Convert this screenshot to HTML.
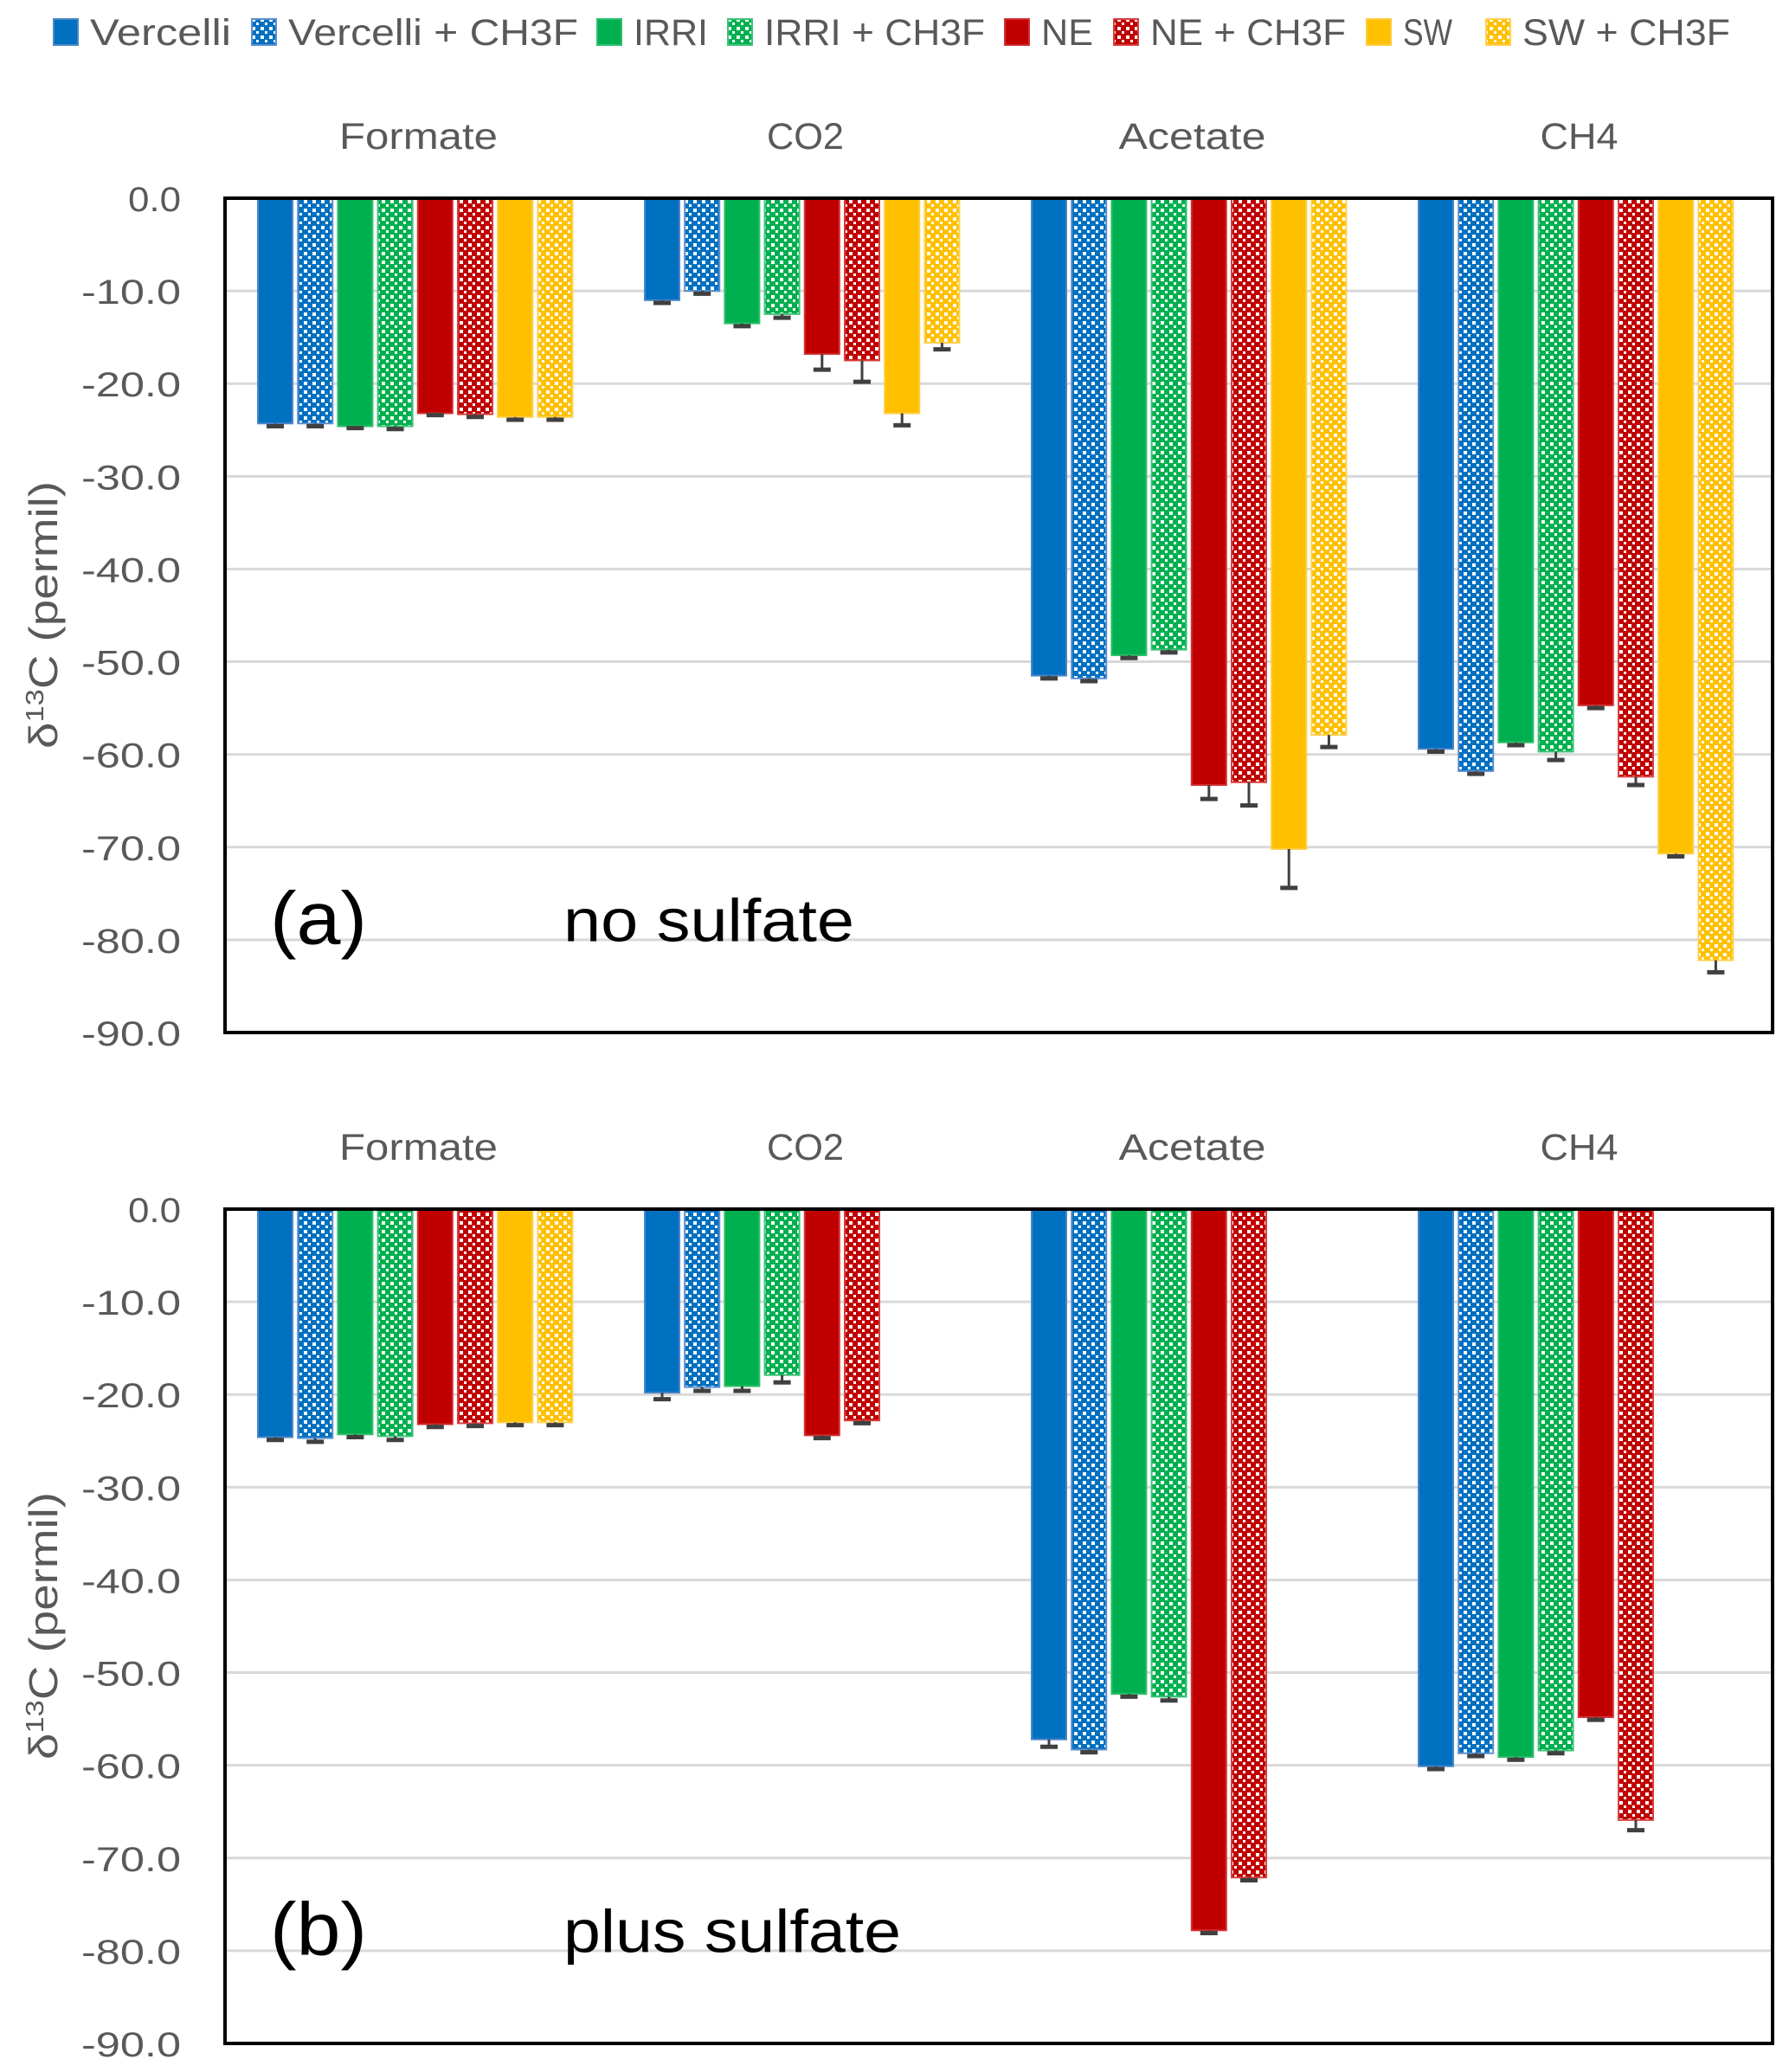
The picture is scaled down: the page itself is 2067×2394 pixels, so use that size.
<!DOCTYPE html>
<html><head><meta charset="utf-8">
<style>
html,body{margin:0;padding:0;background:#fff;}
svg{display:block;font-family:"Liberation Sans",sans-serif;}
</style></head>
<body>
<svg id="chart" width="2067" height="2394" viewBox="0 0 2067 2394" xmlns="http://www.w3.org/2000/svg">
<defs>
<pattern id="p-blue" width="10" height="10" patternUnits="userSpaceOnUse"><rect width="10" height="10" fill="#0070C0"/><rect x="1" y="1" width="4" height="4" fill="#fff"/><rect x="6" y="6" width="3" height="3" fill="#fff"/></pattern>
<pattern id="p-green" width="10" height="10" patternUnits="userSpaceOnUse"><rect width="10" height="10" fill="#00B050"/><rect x="1" y="1" width="4" height="4" fill="#fff"/><rect x="6" y="6" width="3" height="3" fill="#fff"/></pattern>
<pattern id="p-red" width="10" height="10" patternUnits="userSpaceOnUse"><rect width="10" height="10" fill="#C00000"/><rect x="1" y="1" width="4" height="4" fill="#fff"/><rect x="6" y="6" width="3" height="3" fill="#fff"/></pattern>
<pattern id="p-yellow" width="10" height="10" patternUnits="userSpaceOnUse"><rect width="10" height="10" fill="#FFC000"/><rect x="1" y="1" width="4" height="4" fill="#fff"/><rect x="6" y="6" width="3" height="3" fill="#fff"/></pattern>
</defs>
<g id="legend"></g>
<g id="panelA"></g>
<g id="panelB"></g>
</svg>
<script>
const categories = ["Formate","CO2","Acetate","CH4"];
const seriesNames = ["Vercelli","Vercelli + CH3F","IRRI","IRRI + CH3F","NE","NE + CH3F","SW","SW + CH3F"];
const tickValues = [0,-10,-20,-30,-40,-50,-60,-70,-80,-90];
const tickLabels = ["0.0","-10.0","-20.0","-30.0","-40.0","-50.0","-60.0","-70.0","-80.0","-90.0"];
// panel (a) no sulfate: values[category][series]
const valuesA = [
  [-24.3,-24.3,-24.6,-24.6,-23.2,-23.3,-23.6,-23.6],
  [-11.0,-10.0,-13.5,-12.5,-16.8,-17.5,-23.2,-15.6],
  [-51.5,-51.8,-49.3,-48.7,-63.3,-63.0,-70.2,-57.9],
  [-59.4,-61.8,-58.7,-59.7,-54.7,-62.4,-70.7,-82.2]
];
const errorsA = [
  [0.3,0.3,0.2,0.3,0.2,0.3,0.3,0.3],
  [0.3,0.3,0.3,0.4,1.7,2.3,1.3,0.7],
  [0.3,0.3,0.3,0.3,1.5,2.5,4.2,1.3],
  [0.3,0.3,0.3,0.9,0.3,0.9,0.3,1.3]
];
// panel (b) plus sulfate (null = no bar)
const valuesB = [
  [-24.6,-24.7,-24.3,-24.5,-23.2,-23.1,-23.0,-23.0],
  [-19.8,-19.2,-19.1,-17.9,-24.4,-22.8,null,null],
  [-57.2,-58.3,-52.3,-52.6,-77.8,-72.1,null,null],
  [-60.1,-58.7,-59.1,-58.4,-54.8,-65.9,null,null]
];
const errorsB = [
  [0.3,0.4,0.3,0.4,0.3,0.3,0.3,0.3],
  [0.7,0.4,0.5,0.8,0.3,0.3,0,0],
  [0.8,0.3,0.3,0.4,0.3,0.3,0,0],
  [0.3,0.3,0.3,0.3,0.3,1.1,0,0]
];
const fills = ["#0070C0","url(#p-blue)","#00B050","url(#p-green)","#C00000","url(#p-red)","#FFC000","url(#p-yellow)"];
const strokes = ["#4a86c8","#5b8fd0","#2fbf6a","#3fc37a","#d23030","#d84040","#ffcc40","#ffd050"];
const NS="http://www.w3.org/2000/svg";
function mk(tag,attrs,parent){const e=document.createElementNS(NS,tag);for(const k in attrs)e.setAttribute(k,attrs[k]);parent.appendChild(e);return e;}

const plotL=260, plotR=2048, catW=(plotR-plotL)/4, groupOff=38, slot=46.2, barW=40;
const catLen=[183,89,170,90];

function drawPanel(g, top, bottom, vals, errs, tag, note, noteLen){
  const y = v => top + (0 - v)/90*(bottom-top);
  tickValues.forEach((tv,i)=>{
    if(tv!==0 && tv!==-90){
      const gl=mk('line',{x1:plotL,x2:plotR,y1:y(tv),y2:y(tv),stroke:'#d9d9d9','stroke-width':3},g);
      
      
    }
    const lab=tickLabels[i];
    const len = lab.length===3 ? 61 : 115;
    const t=mk('text',{x:209-len,y:y(tv)+15,'font-size':40,fill:'#595959',textLength:len,lengthAdjust:'spacingAndGlyphs'},g);
    t.textContent=lab;
    
    
  });
  categories.forEach((c,ci)=>{
    const cx=plotL+catW*(ci+0.5);
    const t=mk('text',{x:cx-catLen[ci]/2,y:top-57,'font-size':43,fill:'#595959',textLength:catLen[ci],lengthAdjust:'spacingAndGlyphs'},g);
    t.textContent=c;
    
    
  });
  vals.forEach((row,ci)=>{
    row.forEach((v,si)=>{
      if(v===null) return;
      const x=plotL+catW*ci+groupOff+slot*si;
      const r=mk('rect',{x:x,y:top,width:barW,height:y(v)-top,fill:fills[si],stroke:strokes[si],'stroke-width':2},g);
      
      
      const e=errs[ci][si];
      if(e>0){
        const ye=y(v-e), cx=x+barW/2;
        const l=mk('line',{x1:cx,x2:cx,y1:y(v),y2:ye,stroke:'#404040','stroke-width':3},g);
        
        
        const cp=mk('line',{x1:cx-10,x2:cx+10,y1:ye,y2:ye,stroke:'#404040','stroke-width':5},g);
        
        
      }
    });
  });
  const fr=mk('rect',{x:plotL,y:top,width:plotR-plotL,height:bottom-top,fill:'none',stroke:'#000','stroke-width':4},g);
  
  
  const yt=mk('text',{transform:`translate(66,${(top+bottom)/2+154}) rotate(-90)`,'font-size':46,fill:'#595959',textLength:309,lengthAdjust:'spacingAndGlyphs'},g);
  yt.innerHTML='δ<tspan baseline-shift="super" font-size="29">13</tspan>C (permil)';
  
  
  const by=top+(bottom-top)*0.96-64;
  const pl=mk('text',{x:312,y:by,'font-size':86,fill:'#000',textLength:112,lengthAdjust:'spacingAndGlyphs'},g);
  pl.textContent=tag;
  
  
  const nt=mk('text',{x:651,y:by-3,'font-size':70,fill:'#000',textLength:noteLen,lengthAdjust:'spacingAndGlyphs'},g);
  nt.textContent=note;
  
  
}
drawPanel(document.getElementById('panelA'),229,1193,valuesA,errorsA,'(a)','no sulfate',336);
drawPanel(document.getElementById('panelB'),1397,2361,valuesB,errorsB,'(b)','plus sulfate',390);

const lg=document.getElementById('legend');
const legX=[104,333,732,883,1203,1329,1621,1759];
const legLen=[163,335,86,255,60,226,57,240];
seriesNames.forEach((n,i)=>{
  const sw=mk('rect',{x:legX[i]-42,y:22,width:28,height:30,fill:fills[i],stroke:strokes[i],'stroke-width':2},lg);
  
  
  const t=mk('text',{x:legX[i],y:52,'font-size':43,fill:'#595959',textLength:legLen[i],lengthAdjust:'spacingAndGlyphs'},lg);
  t.textContent=n;
  
  
});
</script>
</body></html>
